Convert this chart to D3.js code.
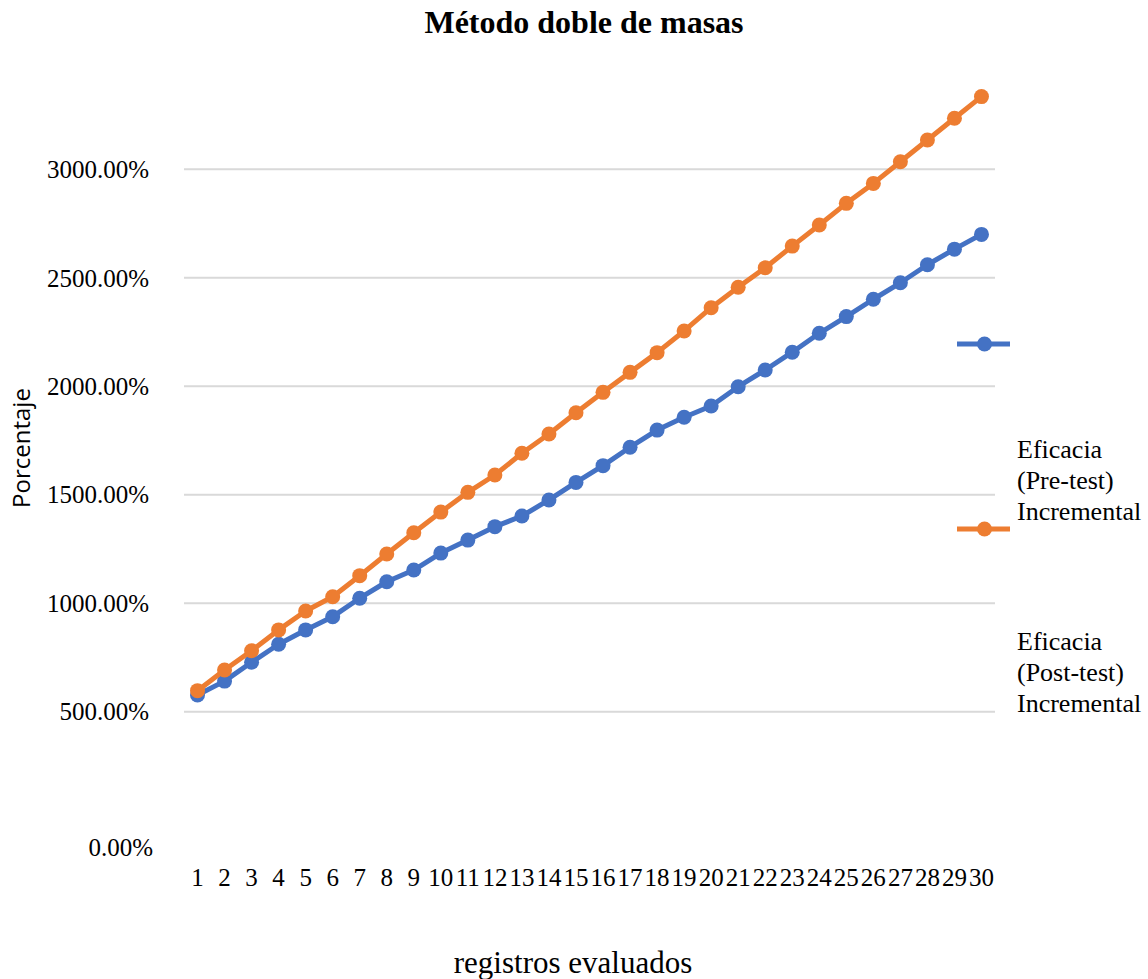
<!DOCTYPE html>
<html>
<head>
<meta charset="utf-8">
<script src="https://cdn.jsdelivr.net/npm/d3@7/dist/d3.min.js"></script>
<style>
  html, body { margin: 0; padding: 0; background: #fff; }
  svg { display: block; }
</style>
</head>
<body>
<svg id="chart" width="1148" height="979"></svg>
<script>
// Registros evaluados (1..30)
const categories = d3.range(1, 31).map(String);

// Eficacia acumulada (%) por registro
const preTest = [577, 641, 728, 811, 877, 938, 1023, 1099, 1153, 1231,
                 1291, 1353, 1402, 1476, 1557, 1634, 1719, 1798, 1857, 1909,
                 1998, 2075, 2157, 2244, 2321, 2401, 2477, 2560, 2632, 2700];
const postTest = [597, 692, 781, 877, 964, 1030, 1127, 1227, 1325, 1420,
                  1511, 1591, 1691, 1780, 1878, 1972, 2064, 2155, 2255, 2362,
                  2456, 2546, 2646, 2743, 2843, 2935, 3035, 3135, 3235, 3335];

const seriesNames = ["Eficacia (Pre-test) Incremental", "Eficacia (Post-test) Incremental"];
const yTicks = [0, 500, 1000, 1500, 2000, 2500, 3000];

const title = "Método doble de masas";
const xTitle = "registros evaluados";
const yTitle = "Porcentaje";

const BLUE = "#4472C4", ORANGE = "#ED7D31";
const serif = "'Liberation Serif', 'Times New Roman', serif";

const svg = d3.select("#chart");

const plot = { left: 184, right: 995 };
const x = d3.scaleBand().domain(categories).range([plot.left, plot.right]);
const y = d3.scaleLinear().domain([0, 3500]).range([820.2, 60.8]);
const cx = d => x(d) + x.bandwidth() / 2;

// Gridlines (no line drawn at zero)
svg.append("g")
  .selectAll("line")
  .data(yTicks.filter(v => v > 0))
  .join("line")
  .attr("x1", plot.left).attr("x2", plot.right)
  .attr("y1", d => y(d)).attr("y2", d => y(d))
  .attr("stroke", "#d9d9d9").attr("stroke-width", 2);

// Y axis labels
const fmt = v => v.toFixed(2) + "%";
svg.append("g")
  .selectAll("text")
  .data(yTicks)
  .join("text")
  .attr("x", d => d === 0 ? 153 : 149)
  .attr("y", d => d === 0 ? y(d) + 27 : y(d))
  .attr("dy", "0.35em")
  .attr("text-anchor", "end")
  .attr("font-family", serif)
  .attr("font-size", 25)
  .attr("fill", "#000")
  .text(fmt);

// X axis labels
svg.append("g")
  .selectAll("text")
  .data(categories)
  .join("text")
  .attr("x", d => cx(d))
  .attr("y", 877)
  .attr("dy", "0.35em")
  .attr("text-anchor", "middle")
  .attr("font-family", serif)
  .attr("font-size", 25)
  .attr("fill", "#000")
  .text(d => d);

// Series
const series = [
  { name: seriesNames[0], values: preTest, color: BLUE },
  { name: seriesNames[1], values: postTest, color: ORANGE }
];

const line = d3.line()
  .x((d, i) => cx(categories[i]))
  .y(d => y(d));

series.forEach(s => {
  const g = svg.append("g");
  g.append("path")
    .datum(s.values)
    .attr("d", line)
    .attr("fill", "none")
    .attr("stroke", s.color)
    .attr("stroke-width", 5)
    .attr("stroke-linejoin", "round");
  g.selectAll("circle")
    .data(s.values)
    .join("circle")
    .attr("cx", (d, i) => cx(categories[i]))
    .attr("cy", d => y(d))
    .attr("r", 7.5)
    .attr("fill", s.color);
});

// Legend
const legend = [
  { s: series[0], lineY: 344, textY: 458 },
  { s: series[1], lineY: 529, textY: 650 }
];
legend.forEach(l => {
  const g = svg.append("g");
  g.append("line")
    .attr("x1", 957).attr("x2", 1010)
    .attr("y1", l.lineY).attr("y2", l.lineY)
    .attr("stroke", l.s.color).attr("stroke-width", 5);
  g.append("circle")
    .attr("cx", 984.5).attr("cy", l.lineY).attr("r", 7.5)
    .attr("fill", l.s.color);
  const words = ["Eficacia", l.s.name.match(/\(.*\)/)[0], "Incremental"];
  const t = g.append("text")
    .attr("font-family", serif)
    .attr("font-size", 26)
    .attr("fill", "#000");
  words.forEach((w, i) => {
    t.append("tspan").attr("x", 1017).attr("y", l.textY + i * 31).text(w);
  });
});

// Titles
svg.append("text")
  .attr("x", 584).attr("y", 33)
  .attr("text-anchor", "middle")
  .attr("font-family", serif)
  .attr("font-weight", "bold")
  .attr("font-size", 32)
  .text(title);

svg.append("text")
  .attr("x", 573).attr("y", 973)
  .attr("text-anchor", "middle")
  .attr("font-family", serif)
  .attr("font-size", 31)
  .text(xTitle);

svg.append("text")
  .attr("transform", "translate(30,448) rotate(-90)")
  .attr("text-anchor", "middle")
  .attr("font-family", "'Open Sans', 'Liberation Sans', sans-serif")
  .attr("font-size", 24)
  .text(yTitle);
</script>
</body>
</html>
